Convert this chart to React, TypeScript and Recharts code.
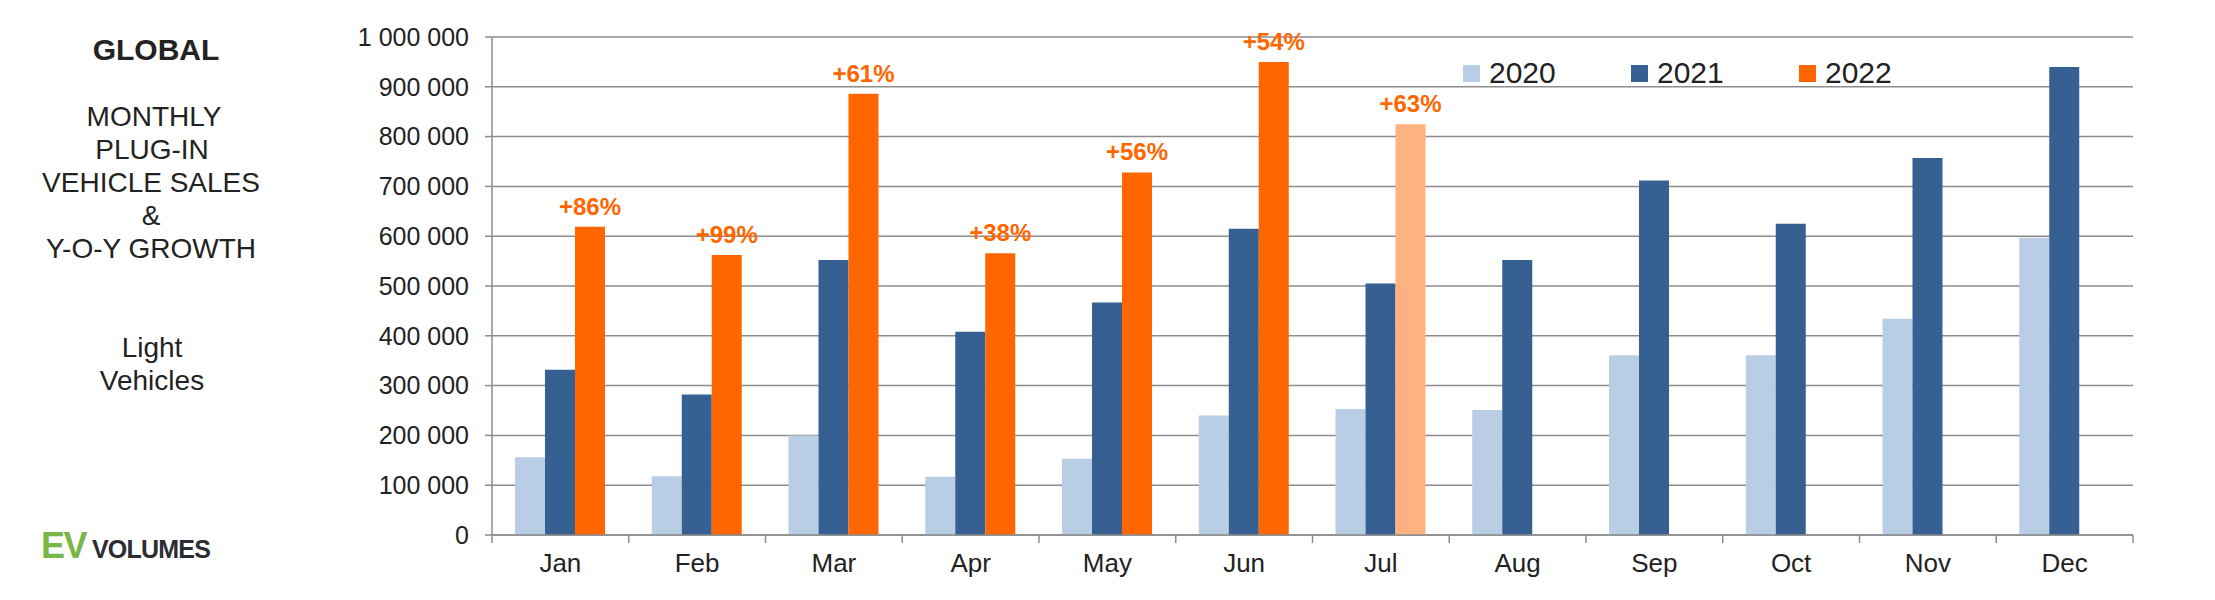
import React from 'react';
import { BarChart, Bar, XAxis, YAxis, CartesianGrid, Legend, LabelList, Cell } from 'recharts';

const months = ['Jan', 'Feb', 'Mar', 'Apr', 'May', 'Jun', 'Jul', 'Aug', 'Sep', 'Oct', 'Nov', 'Dec'];
const sales2020 = [156000, 118000, 200000, 117000, 153000, 240000, 253000, 251000, 361000, 361000, 434000, 597000];
const sales2021 = [332000, 282000, 552000, 408000, 467000, 615000, 505000, 552000, 712000, 625000, 757000, 940000];
const sales2022 = [619000, 562000, 886000, 566000, 728000, 950000, 825000, null, null, null, null, null];
const growth2022 = ['+86%', '+99%', '+61%', '+38%', '+56%', '+54%', '+63%', null, null, null, null, null];
const estimatedMonths = ['Jul'];
const yTicks = [0, 100000, 200000, 300000, 400000, 500000, 600000, 700000, 800000, 900000, 1000000];

const data = months.map((m, i) => ({
  month: m,
  y2020: sales2020[i],
  y2021: sales2021[i],
  y2022: sales2022[i],
  growth: growth2022[i],
}));

const FONT = '"Liberation Sans", Arial, sans-serif';
const GRID = '#8c8c8c';
const TEXT = '#222222';
const LIGHT_BLUE = '#b9cde5';
const DARK_BLUE = '#376092';
const ORANGE = '#ff6600';
const LIGHT_ORANGE = '#ffb27f';

const fmt = (v: number) => v.toLocaleString('en-US').replace(/,/g, ' ');

// month label in the middle, small tick at the left edge of each category (Excel style)
const MonthTick = (props: any) => {
  const { x, y, payload, index, visibleTicksCount } = props;
  const half = payload.offset || 68.4;
  const axisY = y - 18;
  return (
    <g>
      <line x1={x - half} x2={x - half} y1={axisY} y2={axisY + 8} stroke={GRID} strokeWidth={1.5} />
      {index === visibleTicksCount - 1 && (
        <line x1={x + half} x2={x + half} y1={axisY} y2={axisY + 8} stroke={GRID} strokeWidth={1.5} />
      )}
      <text x={x} y={axisY + 37} textAnchor="middle" fontSize={26} fill={TEXT} fontFamily={FONT}>
        {payload.value}
      </text>
    </g>
  );
};

const GrowthLabel = (props: any) => {
  const { x, y, width, value } = props;
  if (!value) return null;
  return (
    <text x={x + width / 2} y={y - 12} textAnchor="middle" fontSize={24} fontWeight="bold" fill={ORANGE} fontFamily={FONT}>
      {value}
    </text>
  );
};

const LegendContent = (props: any) => {
  const { payload } = props;
  return (
    <div style={{ display: 'flex', fontFamily: FONT }}>
      {payload.map((p: any) => (
        <div key={p.value} style={{ width: 168, display: 'flex', alignItems: 'center' }}>
          <span style={{ width: 17, height: 17, background: p.color, display: 'inline-block', marginRight: 9 }} />
          <span style={{ fontSize: 30, color: TEXT, lineHeight: '34px' }}>{p.value}</span>
        </div>
      ))}
    </div>
  );
};

export default function App() {
  return (
    <div style={{ position: 'relative', width: 2215, height: 600, margin: '-8px 0 0 -8px', background: '#fff' }}>
      <BarChart
        width={2215}
        height={600}
        data={data}
        margin={{ top: 37, right: 82, bottom: 15, left: 0 }}
        barGap={0}
        barSize={30}
      >
        <CartesianGrid vertical={false} stroke={GRID} strokeWidth={1.5} />
        <XAxis
          dataKey="month"
          height={50}
          axisLine={{ stroke: GRID, strokeWidth: 1.5 }}
          tickLine={false}
          tickSize={8}
          tickMargin={10}
          interval={0}
          tick={<MonthTick />}
        />
        <YAxis
          width={492}
          domain={[0, 1000000]}
          ticks={yTicks}
          interval={0}
          tickFormatter={fmt}
          axisLine={{ stroke: GRID, strokeWidth: 1.5 }}
          tickLine={{ stroke: GRID, strokeWidth: 1.5 }}
          tickSize={7}
          tickMargin={16}
          tick={{ fontSize: 25, fill: TEXT, fontFamily: FONT }}
        />
        <Legend
          verticalAlign="middle"
          align="center"
          content={<LegendContent />}
          wrapperStyle={{ position: 'absolute', left: 1463, top: 56, width: 520 }}
        />
        <Bar dataKey="y2020" name="2020" fill={LIGHT_BLUE} isAnimationActive={false} />
        <Bar dataKey="y2021" name="2021" fill={DARK_BLUE} isAnimationActive={false} />
        <Bar dataKey="y2022" name="2022" fill={ORANGE} isAnimationActive={false}>
          {data.map((d) => (
            <Cell key={d.month} fill={estimatedMonths.includes(d.month) ? LIGHT_ORANGE : ORANGE} />
          ))}
          <LabelList dataKey="growth" content={<GrowthLabel />} />
        </Bar>
      </BarChart>

      <svg width={340} height={600} style={{ position: 'absolute', left: 0, top: 0, pointerEvents: 'none' }} fontFamily={FONT}>
        <text x={156} y={60} textAnchor="middle" fontSize={30} fontWeight="bold" fill={TEXT}>GLOBAL</text>
        <text textAnchor="middle" fontSize={28} fill={TEXT}>
          <tspan x={154} y={126}>MONTHLY</tspan>
          <tspan x={152} y={159}>PLUG-IN</tspan>
          <tspan x={151} y={192}>VEHICLE SALES</tspan>
          <tspan x={151} y={225}>&amp;</tspan>
          <tspan x={151} y={258}>Y-O-Y GROWTH</tspan>
        </text>
        <text textAnchor="middle" fontSize={28} fill={TEXT}>
          <tspan x={152} y={357}>Light</tspan>
          <tspan x={152} y={390}>Vehicles</tspan>
        </text>
        <text x={41} y={558} fontSize={36} fontWeight="bold" fill="#7ab648" letterSpacing={-1.5}>EV</text>
        <text x={92} y={558} fontSize={25} fontWeight="bold" fill="#2b2d33" letterSpacing={-0.8}>VOLUMES</text>
      </svg>
    </div>
  );
}
